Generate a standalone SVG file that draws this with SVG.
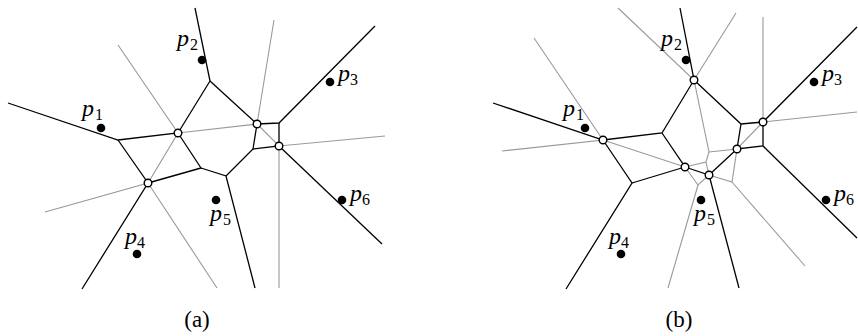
<svg xmlns="http://www.w3.org/2000/svg" width="858" height="336" viewBox="0 0 858 336">
<style>
.bk{fill:none;stroke:#000;stroke-width:1.3;stroke-linejoin:miter}
.gr{fill:none;stroke:#999;stroke-width:1.1}
.v{fill:#fff;stroke:#000;stroke-width:1.4}
.pt{fill:#000}
.lbl{font-family:"Liberation Serif","DejaVu Serif",serif;font-style:italic;font-size:24px;fill:#000}
.sub{font-style:normal;font-size:16px}
.cap{font-family:"Liberation Serif","DejaVu Serif",serif;font-size:23px;fill:#000;text-anchor:middle}
</style>
<g id="connectors">
<g id="gray-a" class="gr">
<path d="M118,45 L178,133 L148,183 L45,212"/>
<path d="M148,183 L217,288"/>
<path d="M178,133 L257,124 L274,20"/>
<path d="M257,124 L279,146 L385,136"/>
<path d="M279,146 L279,288"/>
</g>
<g id="black-a" class="bk">
<path d="M8,103 L118,140 L178,133 L210,81 L195,8"/>
<path d="M210,81 L257,124 L279,123 L375,26"/>
<path d="M118,140 L148,183 L82,289"/>
<path d="M178,133 L201,168 L148,183"/>
<path d="M201,168 L226,176 L255,288"/>
<path d="M226,176 L253,149 L257,124"/>
<path d="M253,149 L279,146 L279,123"/>
<path d="M279,146 L382,244"/>
</g>
<g id="gray-b" class="gr">
<path d="M534,38 L603,140 L502,151"/>
<path d="M603,140 L685,167 L706,162 L709,152 L694,80 L618,8"/>
<path d="M694,80 L736,13"/>
<path d="M709,152 L737,149 L763,122 L763,17"/>
<path d="M763,122 L857,112"/>
<path d="M706,162 L709,175 L732,182 L737,149"/>
<path d="M732,182 L805,266"/>
<path d="M709,175 L698,185 L685,167"/>
<path d="M698,185 L668,288"/>
</g>
<g id="black-b" class="bk">
<path d="M493,103 L603,140 L662,133 L694,80 L680,8"/>
<path d="M694,80 L741,124 L763,122 L857,27"/>
<path d="M741,124 L737,149 L763,146 L763,122"/>
<path d="M763,146 L857,238"/>
<path d="M603,140 L632,183 L566,289"/>
<path d="M632,183 L685,167 L662,133"/>
<path d="M685,167 L709,175 L737,149"/>
<path d="M709,175 L739,288"/>
</g>
</g>
<g id="vertices-a">
<g id="va1"><circle class="v" cx="178" cy="133" r="3.8"/></g>
<g id="va2"><circle class="v" cx="148" cy="183" r="3.8"/></g>
<g id="va3"><circle class="v" cx="257" cy="124" r="3.8"/></g>
<g id="va4"><circle class="v" cx="279" cy="146" r="3.8"/></g>
</g>
<g id="vertices-b">
<g id="vb1"><circle class="v" cx="603" cy="140" r="3.8"/></g>
<g id="vb2"><circle class="v" cx="694" cy="80" r="3.8"/></g>
<g id="vb3"><circle class="v" cx="685" cy="167" r="3.8"/></g>
<g id="vb4"><circle class="v" cx="709" cy="175" r="3.8"/></g>
<g id="vb5"><circle class="v" cx="737" cy="149" r="3.8"/></g>
<g id="vb6"><circle class="v" cx="763" cy="122" r="3.8"/></g>
</g>
<g id="sites-a">
<g id="a-p1"><circle class="pt" cx="101" cy="128" r="4.3"/><text class="lbl" x="82" y="116">p<tspan class="sub" x="95" y="120">1</tspan></text></g>
<g id="a-p2"><circle class="pt" cx="202" cy="60" r="4.3"/><text class="lbl" x="177" y="46">p<tspan class="sub" x="190" y="50">2</tspan></text></g>
<g id="a-p3"><circle class="pt" cx="330" cy="82" r="4.3"/><text class="lbl" x="338" y="81">p<tspan class="sub" x="350" y="85">3</tspan></text></g>
<g id="a-p4"><circle class="pt" cx="137" cy="254" r="4.3"/><text class="lbl" x="125" y="244">p<tspan class="sub" x="137" y="248">4</tspan></text></g>
<g id="a-p5"><circle class="pt" cx="216" cy="200" r="4.3"/><text class="lbl" x="210" y="221">p<tspan class="sub" x="223" y="225">5</tspan></text></g>
<g id="a-p6"><circle class="pt" cx="342" cy="200" r="4.3"/><text class="lbl" x="350" y="201">p<tspan class="sub" x="362" y="205">6</tspan></text></g>
</g>
<g id="sites-b">
<g id="b-p1"><circle class="pt" cx="585" cy="128" r="4.3"/><text class="lbl" x="563" y="116">p<tspan class="sub" x="576" y="120">1</tspan></text></g>
<g id="b-p2"><circle class="pt" cx="686" cy="60" r="4.3"/><text class="lbl" x="661" y="46">p<tspan class="sub" x="674" y="50">2</tspan></text></g>
<g id="b-p3"><circle class="pt" cx="814" cy="82" r="4.3"/><text class="lbl" x="822" y="81">p<tspan class="sub" x="834" y="85">3</tspan></text></g>
<g id="b-p4"><circle class="pt" cx="621" cy="254" r="4.3"/><text class="lbl" x="609" y="244">p<tspan class="sub" x="621" y="248">4</tspan></text></g>
<g id="b-p5"><circle class="pt" cx="701" cy="200" r="4.3"/><text class="lbl" x="694" y="221">p<tspan class="sub" x="707" y="225">5</tspan></text></g>
<g id="b-p6"><circle class="pt" cx="826" cy="200" r="4.3"/><text class="lbl" x="834" y="201">p<tspan class="sub" x="846" y="205">6</tspan></text></g>
</g>
<g id="captions">
<text class="cap" x="197" y="327">(a)</text>
<text class="cap" x="679" y="327">(b)</text>
</g>
</svg>
